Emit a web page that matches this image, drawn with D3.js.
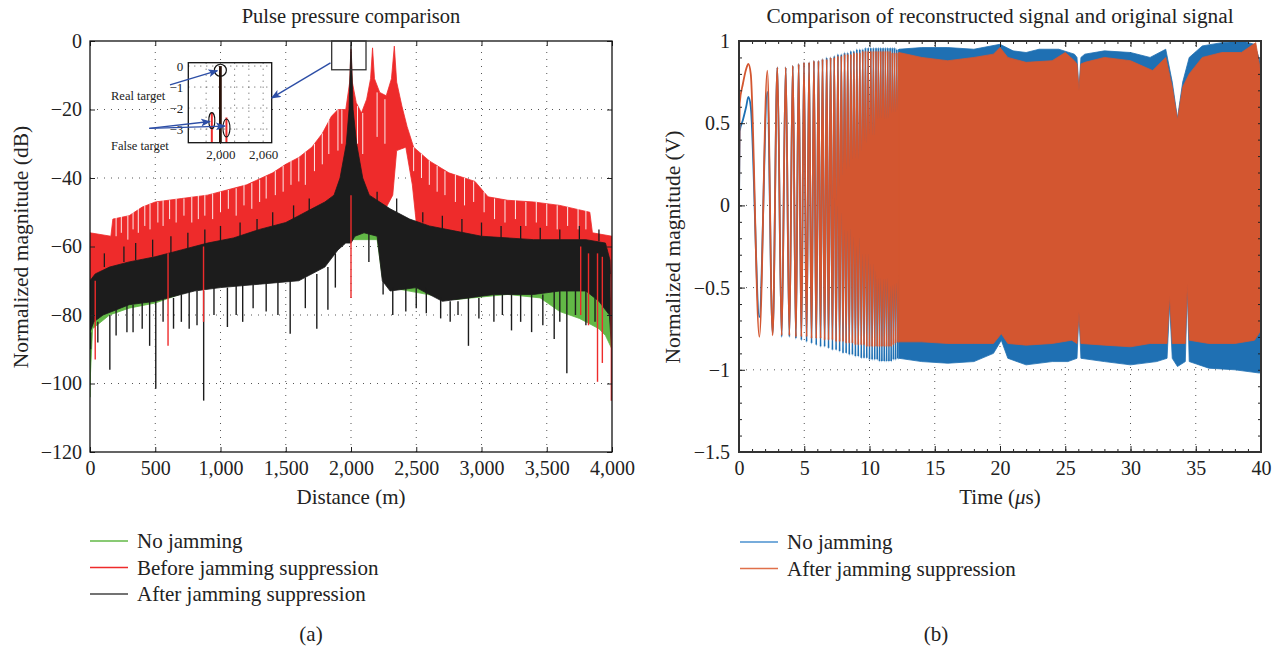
<!DOCTYPE html>
<html>
<head>
<meta charset="utf-8" />
<title>Pulse pressure comparison</title>
<script src="https://cdn.jsdelivr.net/npm/d3@7/dist/d3.min.js"></script>
<style>
	body { margin: 0; background: #fff; }
	svg { display: block; font-family: "Liberation Serif", "DejaVu Serif", serif; }
</style>
</head>
<body>
<svg id="chart" width="1277" height="652"></svg>
<script>
// ---------- (a) pulse compression, distance (m) vs dB ----------
const distTicks = [0, 500, 1000, 1500, 2000, 2500, 3000, 3500, 4000];
const dbTicks = [0, -20, -40, -60, -80, -100, -120];
const legendA = ['No jamming', 'Before jamming suppression', 'After jamming suppression'];

// envelopes: [distance, dB]
const redUpper = [[0,-56],[160,-57],[175,-52],[300,-51],[400,-48.5],[500,-47],[700,-46],[900,-45],[1000,-44],[1200,-42],
	[1400,-38.5],[1500,-36],[1600,-34],[1700,-31],[1780,-27],[1850,-22],[1900,-20],[1960,-20],[1990,-12],[2000,-2.4],
	[2010,-12],[2040,-18],[2080,-21],[2120,-17],[2150,-11],[2165,-2],[2180,-11],[2220,-15],[2270,-16],[2310,-11],
	[2332,-1.5],[2350,-12],[2390,-19],[2430,-25],[2480,-31],[2600,-35],[2750,-38.5],[2950,-41],[3050,-45.5],
	[3200,-46.5],[3400,-47],[3600,-48],[3830,-50],[3850,-56],[4000,-57]];
const redLower = [[0,-72],[150,-69],[300,-67],[500,-66],[700,-64],[900,-62],[1100,-60],[1300,-58],[1500,-56],
	[1600,-54],[1700,-52],[1800,-49],[1870,-46],[1950,-46],[2000,-46],[2100,-47],[2250,-50],[2320,-45],[2350,-32],
	[2420,-31],[2470,-42],[2500,-53],[2600,-55],[2800,-56.5],[3000,-58],[3400,-59],[3700,-60],[3850,-62],
	[3950,-64],[4000,-70]];
const blackUpper = [[0,-70],[40,-68],[150,-66],[300,-64.5],[500,-63],[700,-61],[900,-59],[1100,-57.5],[1300,-55],
	[1500,-53],[1600,-51],[1700,-49],[1800,-47],[1870,-45],[1916,-40],[1964,-30],[1985,-20],[2000,0],[2016,-20],
	[2043,-30],[2090,-40],[2140,-45],[2300,-49],[2450,-52],[2600,-54],[2800,-55.5],[3000,-57],[3400,-58],
	[3800,-58],[3950,-59],[3985,-64],[4000,-88]];
const blackLower = [[0,-85],[30,-82],[100,-80],[300,-77],[500,-76],[800,-73],[1000,-72],[1300,-71],[1600,-70],
	[1800,-66],[1900,-61],[1960,-59],[2000,-59],[2030,-57],[2100,-56],[2200,-57],[2240,-70],[2300,-73],[2500,-72],
	[2700,-76],[2900,-75],[3100,-74],[3400,-74],[3600,-73],[3800,-73],[3900,-76],[3980,-80],[4000,-92]];
const greenUpper = [[0,-74],[300,-68],[800,-64],[1500,-58],[1900,-52],[1960,-42],[2000,-6],[2040,-42],[2100,-52],
	[2500,-58],[3000,-61],[3800,-62],[4000,-76]];
const greenLower = [[0,-100],[20,-84],[150,-80],[300,-78],[500,-76.5],[800,-72.5],[1200,-71],[1600,-69.5],
	[1900,-60],[2000,-58],[2200,-58],[2240,-69],[2300,-72],[2800,-75.5],[3200,-74],[3450,-75],[3600,-79],
	[3750,-81],[3900,-84],[3950,-86],[4000,-90]];

// deep narrow dips: [distance, from dB, to dB]
const redDips = [[2000,-45,-75],[40,-70,-93],[598,-62,-89],[870,-60,-82],[3760,-60,-80],[3820,-62,-83],
	[3889,-62,-99.5],[3926,-63,-94],[3995,-68,-105]];
const blackDips = [[5,-85,-90],[60,-82,-88],[152,-80,-96],[200,-78,-86],[283,-77,-85],[330,-77,-85],[400,-76,-84],
	[457,-76,-89],[504,-76,-101.5],[560,-75,-82],[640,-75,-84],[700,-74,-82],[760,-73,-84],[820,-73,-83],
	[871,-73,-105],[950,-72,-80],[1053,-72,-83.5],[1120,-71,-80],[1170,-71,-82],[1250,-71,-78],[1350,-70,-79],
	[1440,-70,-80],[1534,-70,-85.5],[1650,-69,-78],[1738,-68,-84],[1823,-66,-78.5],[1880,-62,-72],[2137,-56,-64.5],
	[2246,-70,-74],[2320,-72,-80],[2420,-72,-79],[2500,-72,-78],[2577,-72,-79.5],[2687,-75,-81],[2760,-76,-82],
	[2820,-76,-80],[2900,-75,-89],[2980,-75,-81],[3095,-74,-82],[3160,-74,-80],[3230,-74,-84.5],[3300,-74,-82],
	[3384,-74,-85],[3470,-74,-83],[3557,-73,-87],[3600,-73,-82],[3654,-73,-97],[3720,-73,-80],[3800,-73,-83],
	[3870,-75,-82]];
// black spikes reaching up into the red lobes
const blackSpikes = [[110,-66,-62],[260,-64.5,-60],[350,-64,-59],[480,-63,-58],[620,-62,-57],[750,-61,-56],
	[880,-59.5,-55],[1000,-58.5,-54],[1150,-57,-53],[1280,-55.5,-52],[1400,-54,-50],[1560,-52,-48],[1680,-49.5,-46],
	[2200,-47,-44],[2350,-50,-46],[2550,-53,-50],[2700,-55,-51],[2850,-56,-52],[3000,-57,-53],[3150,-57.5,-54],
	[3300,-58,-54],[3450,-58,-54.5],[3600,-58,-55],[3750,-58,-54],[3900,-58.5,-55]];
const greenDips = [[0,-90,-104]];
// white gaps between the red side-lobe spikes: [distance, top dB, bottom dB]
const redGaps = [[200,-51,-57],[240,-51,-56],[290,-51,-58],[330,-50,-55],[370,-49,-56],[420,-48,-54],[460,-47.5,-55],
	[520,-47,-53],[560,-46.5,-54],[610,-46.5,-52],[660,-46,-53],[720,-46,-51],[780,-45.5,-53],[830,-45,-52],
	[880,-45,-51],[940,-44.5,-52],[1000,-44,-50],[1060,-43.5,-49],[1120,-43,-51],[1180,-42,-48],[1240,-41.5,-49],
	[1300,-40.5,-47],[1350,-39.5,-46],[1420,-38,-45],[1480,-36.5,-44],[1540,-35,-42],[1600,-34,-41],[1650,-32.5,-42],
	[1720,-30,-38],[1780,-27,-36],[1830,-23,-33],[1900,-20,-32],[1930,-20,-30],[2050,-19,-30],[2090,-21,-33],
	[2200,-15,-28],[2260,-17,-30],[2480,-31,-38],[2540,-33,-40],[2600,-35,-42],[2660,-36.5,-44],[2720,-38,-45],
	[2800,-39,-47],[2870,-40,-48],[2940,-41,-47],[3020,-44,-50],[3100,-46,-52],[3180,-46.5,-53],[3260,-46.5,-52],
	[3340,-47,-54],[3420,-47,-53],[3500,-47.5,-54],[3580,-48,-55],[3660,-48.5,-54],[3740,-49,-55],[3800,-49.5,-55]];

// zoomed inset
const insetTicksX = [1960, 1980, 2000, 2020, 2040, 2060];
const insetLabelsX = [2000, 2060];
const insetTicksY = [0, -1, -2, -3];
const insetPeaks = [[1988, -2.2, '#ee2b2b'], [2008.5, -2.45, '#ee2b2b'], [2000, 0, '#2a1208']];

// ---------- (b) reconstructed chirp, time (us) vs V ----------
const timeTicks = [0, 5, 10, 15, 20, 25, 30, 35, 40];
const voltTicks = [1, 0.5, 0, -0.5, -1, -1.5];
const legendB = ['No jamming', 'After jamming suppression'];

// peak / trough instants of the resolved chirp cycles (us)
const chirpT = [0,0.05,0.3,0.55,0.72,0.9,1.56,2.17,2.58,2.94,3.27,3.58,3.86,4.12,4.36,4.57,4.78,4.98,5.18,5.37,
	5.56,5.74,5.92,6.09,6.25,6.4,6.56,6.72,6.86,7.02,7.16,7.3,7.44,7.58,7.71,7.84,7.97,8.09,8.21,8.33,8.45,8.57,
	8.69,8.8,8.92,9.03,9.14,9.26,9.37,9.48,9.58,9.69,9.79,9.9,10.0,10.1,10.2,10.3,10.4,10.5,10.59,10.68,10.77,
	10.86,10.95,11.04,11.13,11.22,11.31,11.4,11.49,11.58,11.66,11.75,11.83,11.92,12.0,12.09,12.17,12.26];
const chirpOrange = [0,0.62,0.74,0.83,0.86,0.8,-0.8,0.82,-0.79,0.84,-0.79,0.84,-0.79,0.85,-0.8,0.86,-0.8,0.87,-0.8,
	0.87,-0.81,0.88,-0.81,0.88,-0.81,0.89,-0.82,0.89,-0.82,0.9,-0.82,0.9,-0.83,0.91,-0.83,0.91,-0.83,0.92,-0.84,
	0.92,-0.84,0.92,-0.84,0.93,-0.85,0.93,-0.85,0.93,-0.85,0.94,-0.85,0.94,-0.86,0.94,-0.86,0.94,-0.86,0.94,-0.86,
	0.94,-0.86,0.94,-0.86,0.94,-0.86,0.94,-0.86,0.94,-0.86,0.94,-0.86,0.94,-0.86,0.93,-0.85,0.93,-0.84,0.93,-0.83,0.93];
const chirpBlue = [0,0.45,0.52,0.6,0.66,0.6,-0.68,0.69,-0.78,0.84,-0.8,0.84,-0.8,0.85,-0.81,0.86,-0.82,0.87,-0.83,
	0.87,-0.84,0.88,-0.85,0.88,-0.86,0.89,-0.86,0.9,-0.87,0.9,-0.88,0.91,-0.88,0.92,-0.89,0.92,-0.9,0.93,-0.9,
	0.93,-0.91,0.94,-0.91,0.94,-0.92,0.95,-0.92,0.95,-0.93,0.95,-0.93,0.96,-0.93,0.96,-0.94,0.96,-0.94,0.96,-0.94,
	0.96,-0.94,0.96,-0.95,0.96,-0.95,0.96,-0.95,0.96,-0.95,0.96,-0.95,0.96,-0.95,0.96,-0.94,0.96,-0.94,0.95,-0.93,0.95];

// envelopes of the unresolved part (12.3 - 40 us): [us, V]
const blueUpper = [[12.26,0.95],[14,0.96],[16,0.96],[18,0.95],[20,0.98],[21,0.94],[22,0.93],[23,0.95],[24.5,0.95],
	[25.7,0.92],[25.9,0.9],[26.05,0.7],[26.2,0.9],[26.5,0.92],[28,0.94],[30,0.93],[31.5,0.9],[32.7,0.95],[33.2,0.75],
	[33.6,0.53],[34,0.75],[34.5,0.9],[35.5,0.97],[37,0.99],[38.5,1.0],[39.5,0.98],[40,0.86]];
const blueLower = [[12.26,-0.93],[14,-0.95],[16,-0.96],[18,-0.95],[19.5,-0.9],[20.1,-0.82],[20.6,-0.93],[22,-0.97],
	[24,-0.95],[25.2,-0.95],[25.9,-0.93],[26.05,-0.65],[26.2,-0.93],[28,-0.95],[30,-0.97],[32,-0.95],[32.8,-0.93],
	[33.0,-0.6],[33.2,-0.93],[33.6,-0.98],[34.2,-0.95],[34.35,-0.5],[34.5,-0.95],[36,-0.99],[38,-1.0],[39.9,-1.02],
	[40,-0.98]];
const orangeUpper = [[12.26,0.93],[14,0.9],[16,0.88],[18,0.9],[19.5,0.92],[20,0.96],[20.6,0.9],[22,0.87],[24,0.88],
	[25,0.93],[25.7,0.88],[25.9,0.86],[26.05,0.7],[26.2,0.86],[26.5,0.87],[28,0.9],[30,0.88],[31.7,0.82],[32.7,0.9],
	[33.2,0.72],[33.6,0.52],[34,0.72],[34.5,0.8],[35.5,0.9],[37,0.93],[38.5,0.93],[39.6,0.99],[40,0.8]];
const orangeLower = [[12.26,-0.83],[14,-0.83],[16,-0.84],[18,-0.84],[19.5,-0.84],[20.1,-0.78],[20.6,-0.84],
	[22,-0.85],[24,-0.84],[25.5,-0.82],[25.9,-0.84],[26.05,-0.65],[26.2,-0.84],[28,-0.85],[30,-0.86],[31.5,-0.84],
	[32.8,-0.84],[33.0,-0.55],[33.2,-0.84],[34.2,-0.84],[34.35,-0.48],[34.5,-0.82],[36,-0.84],[38,-0.84],
	[39.5,-0.82],[40,-0.76]];

const green = '#62b846', red = '#ee2b2b', black = '#1c1c1c', blue = '#1f70b3', orange = '#d35630', arrowBlue = '#2d4ea6';

window.onload = function() {
	let svg = d3.select('#chart');

	let xA = d3.scaleLinear().domain([0, 4000]).range([90, 612]);
	let yA = d3.scaleLinear().domain([-120, 0]).range([452, 41]);
	let xB = d3.scaleLinear().domain([0, 40]).range([739, 1261]);
	let yB = d3.scaleLinear().domain([-1.5, 1]).range([452, 41]);

	let defs = svg.append('defs');
	defs.append('clipPath').attr('id', 'clipA').append('rect')
		.attr('x', 90).attr('y', 41).attr('width', 522).attr('height', 411);
	defs.append('clipPath').attr('id', 'clipB').append('rect')
		.attr('x', 739).attr('y', 41).attr('width', 522).attr('height', 411);
	defs.append('marker').attr('id', 'arr').attr('markerUnits', 'userSpaceOnUse')
		.attr('markerWidth', 10).attr('markerHeight', 8).attr('refX', 9).attr('refY', 4).attr('orient', 'auto')
		.append('path').attr('d', 'M0,0 L10,4 L0,8 L2.5,4 z').attr('fill', arrowBlue);

	function band(g, upper, lower, x, y, color) {
		let pts = upper.concat(lower.slice().reverse());
		g.append('path')
			.attr('d', d3.line().x(d => x(d[0])).y(d => y(d[1]))(pts) + 'Z')
			.attr('fill', color).attr('stroke', color).attr('stroke-width', 0.8);
	}
	function dips(g, list, x, y, color, w) {
		g.selectAll(null).data(list).enter().append('line')
			.attr('x1', d => x(d[0])).attr('x2', d => x(d[0]))
			.attr('y1', d => y(d[1])).attr('y2', d => y(d[2]))
			.attr('stroke', color).attr('stroke-width', w || 1.4);
	}
	function grid(g, xs, ys, x, y) {
		g.selectAll(null).data(xs).enter().append('line')
			.attr('x1', d => x(d)).attr('x2', d => x(d))
			.attr('y1', y.range()[0]).attr('y2', y.range()[1])
			.attr('stroke', '#555').attr('stroke-width', 1).attr('stroke-dasharray', '1,6');
		g.selectAll(null).data(ys).enter().append('line')
			.attr('y1', d => y(d)).attr('y2', d => y(d))
			.attr('x1', x.range()[0]).attr('x2', x.range()[1])
			.attr('stroke', '#555').attr('stroke-width', 1).attr('stroke-dasharray', '1,6');
	}

	// ===== panel (a) =====
	let gA = svg.append('g');
	grid(gA, distTicks.slice(1, -1), dbTicks.slice(1, -1), xA, yA);

	let dataA = gA.append('g').attr('clip-path', 'url(#clipA)');
	band(dataA, greenUpper, greenLower, xA, yA, green);
	dips(dataA, greenDips, xA, yA, green);
	band(dataA, redUpper, redLower, xA, yA, red);
	dips(dataA, redGaps, xA, yA, '#fff', 0.9);
	band(dataA, blackUpper, blackLower, xA, yA, black);
	dips(dataA, blackDips, xA, yA, black);
	dips(dataA, blackSpikes, xA, yA, black, 1.3);
	dips(dataA, redDips, xA, yA, red);

	// axes
	gA.append('g').attr('transform', 'translate(0,452)')
		.call(d3.axisBottom(xA).tickValues(distTicks).tickFormat(d3.format(',')).tickSize(-5).tickPadding(9))
		.call(g => g.select('.domain').remove());
	gA.append('g').attr('transform', 'translate(0,41)')
		.call(d3.axisTop(xA).tickValues(distTicks).tickFormat('').tickSize(-5))
		.call(g => g.select('.domain').remove());
	gA.append('g').attr('transform', 'translate(90,0)')
		.call(d3.axisLeft(yA).tickValues(dbTicks).tickSize(-5).tickPadding(8))
		.call(g => g.select('.domain').remove());
	gA.append('g').attr('transform', 'translate(612,0)')
		.call(d3.axisRight(yA).tickValues(dbTicks).tickFormat('').tickSize(-5))
		.call(g => g.select('.domain').remove());
	gA.append('rect').attr('x', 90).attr('y', 41).attr('width', 522).attr('height', 411)
		.attr('fill', 'none').attr('stroke', '#111').attr('stroke-width', 1.3);

	// marked box around the peaks
	gA.append('rect').attr('x', xA(1852)).attr('y', yA(0)).attr('width', xA(2115) - xA(1852))
		.attr('height', yA(-8.4) - yA(0)).attr('fill', 'none').attr('stroke', '#333').attr('stroke-width', 1.3);

	// inset
	let xI = d3.scaleLinear().domain([1955, 2072]).range([188.3, 271.7]);
	let yI = d3.scaleLinear().domain([-3.65, 0.16]).range([142.7, 62.7]);
	let gI = gA.append('g');
	gI.append('rect').attr('x', 188.3).attr('y', 62.7).attr('width', 83.4).attr('height', 80).attr('fill', '#fff');
	gI.selectAll(null).data(insetTicksX.slice(1)).enter().append('line')
		.attr('x1', d => xI(d)).attr('x2', d => xI(d)).attr('y1', 62.7).attr('y2', 142.7)
		.attr('stroke', '#555').attr('stroke-dasharray', '1,5');
	gI.selectAll(null).data(insetTicksY).enter().append('line')
		.attr('y1', d => yI(d)).attr('y2', d => yI(d)).attr('x1', 188.3).attr('x2', 271.7)
		.attr('stroke', '#555').attr('stroke-dasharray', '1,5');
	gI.selectAll(null).data(insetPeaks).enter().append('line')
		.attr('x1', d => xI(d[0])).attr('x2', d => xI(d[0]))
		.attr('y1', d => yI(d[1])).attr('y2', 142.7)
		.attr('stroke', d => d[2]).attr('stroke-width', d => d[1] === 0 ? 2.8 : 2);
	gI.append('rect').attr('x', 188.3).attr('y', 62.7).attr('width', 83.4).attr('height', 80)
		.attr('fill', 'none').attr('stroke', '#111').attr('stroke-width', 1.3);
	let insetX = gI.append('g').attr('transform', 'translate(0,142.7)')
		.call(d3.axisBottom(xI).tickValues(insetLabelsX).tickFormat(d3.format(',')).tickSize(0).tickPadding(7))
		.call(g => g.select('.domain').remove());
	let insetY = gI.append('g').attr('transform', 'translate(188.3,0)')
		.call(d3.axisLeft(yI).tickValues(insetTicksY).tickFormat(d3.format('d')).tickSize(0).tickPadding(5))
		.call(g => g.select('.domain').remove());
	// markers around targets
	gI.append('circle').attr('cx', xI(2000)).attr('cy', yI(-0.2)).attr('r', 6)
		.attr('fill', 'none').attr('stroke', '#111').attr('stroke-width', 1.2);
	gI.append('ellipse').attr('cx', xI(1988)).attr('cy', yI(-2.6)).attr('rx', 3).attr('ry', 8)
		.attr('fill', 'none').attr('stroke', '#111').attr('stroke-width', 1.1);
	gI.append('ellipse').attr('cx', xI(2008.5)).attr('cy', yI(-2.95)).attr('rx', 3.5).attr('ry', 9)
		.attr('fill', 'none').attr('stroke', '#111').attr('stroke-width', 1.1);

	// annotation arrows
	let arrows = [
		[xA(1843), yA(-6.4), xI(2072), yI(-1.52)],
		[xA(613), yA(-12.8), xI(1995.7), yI(-0.22)],
		[xA(454), yA(-25.5), xI(1985.4), yI(-2.64)],
		[xA(454), yA(-25.5), xI(2006.3), yI(-2.86)]
	];
	gA.selectAll(null).data(arrows).enter().append('line')
		.attr('x1', d => d[0]).attr('y1', d => d[1]).attr('x2', d => d[2]).attr('y2', d => d[3])
		.attr('stroke', arrowBlue).attr('stroke-width', 1.4).attr('marker-end', 'url(#arr)');
	gA.append('text').attr('x', xA(161)).attr('y', yA(-17.2)).attr('font-size', 12.5).attr('fill', '#222').text('Real target');
	gA.append('text').attr('x', xA(161)).attr('y', yA(-31.8)).attr('font-size', 12.5).attr('fill', '#222').text('False target');

	// ===== panel (b) =====
	let gB = svg.append('g');
	grid(gB, timeTicks.slice(1, -1), voltTicks.slice(1, -1), xB, yB);

	let dataB = gB.append('g').attr('clip-path', 'url(#clipB)');
	let chirpLine = d3.line().curve(d3.curveMonotoneX).x(d => xB(d[0])).y(d => yB(d[1]));
	dataB.append('path').attr('d', chirpLine(chirpT.map((t, i) => [t, chirpBlue[i]])))
		.attr('fill', 'none').attr('stroke', blue).attr('stroke-width', 1.8);
	band(dataB, blueUpper, blueLower, xB, yB, blue);
	dataB.append('path').attr('d', chirpLine(chirpT.map((t, i) => [t, chirpOrange[i]])))
		.attr('fill', 'none').attr('stroke', orange).attr('stroke-width', 1.8);
	band(dataB, orangeUpper, orangeLower, xB, yB, orange);

	let minorX = d3.range(0, 41, 1), minorY = d3.range(-1.5, 1.01, 0.1);
	gB.append('g').attr('transform', 'translate(0,452)')
		.call(d3.axisBottom(xB).tickValues(minorX).tickFormat('').tickSize(-3))
		.call(g => g.select('.domain').remove());
	gB.append('g').attr('transform', 'translate(0,41)')
		.call(d3.axisTop(xB).tickValues(minorX).tickFormat('').tickSize(-3))
		.call(g => g.select('.domain').remove());
	gB.append('g').attr('transform', 'translate(739,0)')
		.call(d3.axisLeft(yB).tickValues(minorY).tickFormat('').tickSize(-3))
		.call(g => g.select('.domain').remove());
	gB.append('g').attr('transform', 'translate(1261,0)')
		.call(d3.axisRight(yB).tickValues(minorY).tickFormat('').tickSize(-3))
		.call(g => g.select('.domain').remove());
	gB.append('g').attr('transform', 'translate(0,452)')
		.call(d3.axisBottom(xB).tickValues(timeTicks).tickSize(-6).tickPadding(9))
		.call(g => g.select('.domain').remove());
	gB.append('g').attr('transform', 'translate(0,41)')
		.call(d3.axisTop(xB).tickValues(timeTicks).tickFormat('').tickSize(-6))
		.call(g => g.select('.domain').remove());
	gB.append('g').attr('transform', 'translate(739,0)')
		.call(d3.axisLeft(yB).tickValues(voltTicks).tickFormat(d3.format('')).tickSize(-6).tickPadding(9))
		.call(g => g.select('.domain').remove());
	gB.append('rect').attr('x', 739).attr('y', 41).attr('width', 522).attr('height', 411)
		.attr('fill', 'none').attr('stroke', '#333').attr('stroke-width', 2);

	// tick styling
	svg.selectAll('.tick text').attr('font-size', 20).attr('fill', '#222')
		.attr('font-family', 'Liberation Serif');
	insetX.selectAll('text').attr('font-size', 13);
	insetY.selectAll('text').attr('font-size', 13);
	svg.selectAll('.tick line').attr('stroke', '#222');

	// titles and axis labels
	let txt = (x, y, s, size, anchor) => svg.append('text').attr('x', x).attr('y', y)
		.attr('font-size', size).attr('text-anchor', anchor || 'middle').attr('fill', '#222').text(s);
	txt(351, 23, 'Pulse pressure comparison', 20.5);
	txt(1000, 23, 'Comparison of reconstructed signal and original signal', 21.3);
	txt(351, 504, 'Distance (m)', 21);
	let tl = svg.append('text').attr('x', 1000).attr('y', 504).attr('font-size', 21)
		.attr('text-anchor', 'middle').attr('fill', '#222');
	tl.append('tspan').text('Time (');
	tl.append('tspan').attr('font-style', 'italic').text('\u03bc');
	tl.append('tspan').text('s)');
	svg.append('text').attr('transform', 'translate(28,247) rotate(-90)').attr('text-anchor', 'middle')
		.attr('font-size', 21.5).attr('fill', '#222').text('Normalized magnitude (dB)');
	svg.append('text').attr('transform', 'translate(680,247) rotate(-90)').attr('text-anchor', 'middle')
		.attr('font-size', 21.5).attr('fill', '#222').text('Normalized magnitude (V)');

	// legends
	let legA = svg.append('g').selectAll(null).data(legendA).enter().append('g')
		.attr('transform', (d, i) => 'translate(90,' + (541 + i * 26.5) + ')');
	legA.append('line').attr('x1', 0).attr('x2', 38).attr('stroke', (d, i) => [green, red, '#444'][i]).attr('stroke-width', 1.5);
	legA.append('text').attr('x', 47).attr('y', 7).attr('font-size', 21).attr('fill', '#222').text(d => d);

	let legB = svg.append('g').selectAll(null).data(legendB).enter().append('g')
		.attr('transform', (d, i) => 'translate(740,' + (542 + i * 26.5) + ')');
	legB.append('line').attr('x1', 0).attr('x2', 38).attr('stroke', (d, i) => ['#4a90cf', '#e0704a'][i]).attr('stroke-width', 1.5);
	legB.append('text').attr('x', 47).attr('y', 7).attr('font-size', 21).attr('fill', '#222').text(d => d);

	txt(311, 641, '(a)', 21);
	txt(936, 641, '(b)', 21);
};
</script>
</body>
</html>
